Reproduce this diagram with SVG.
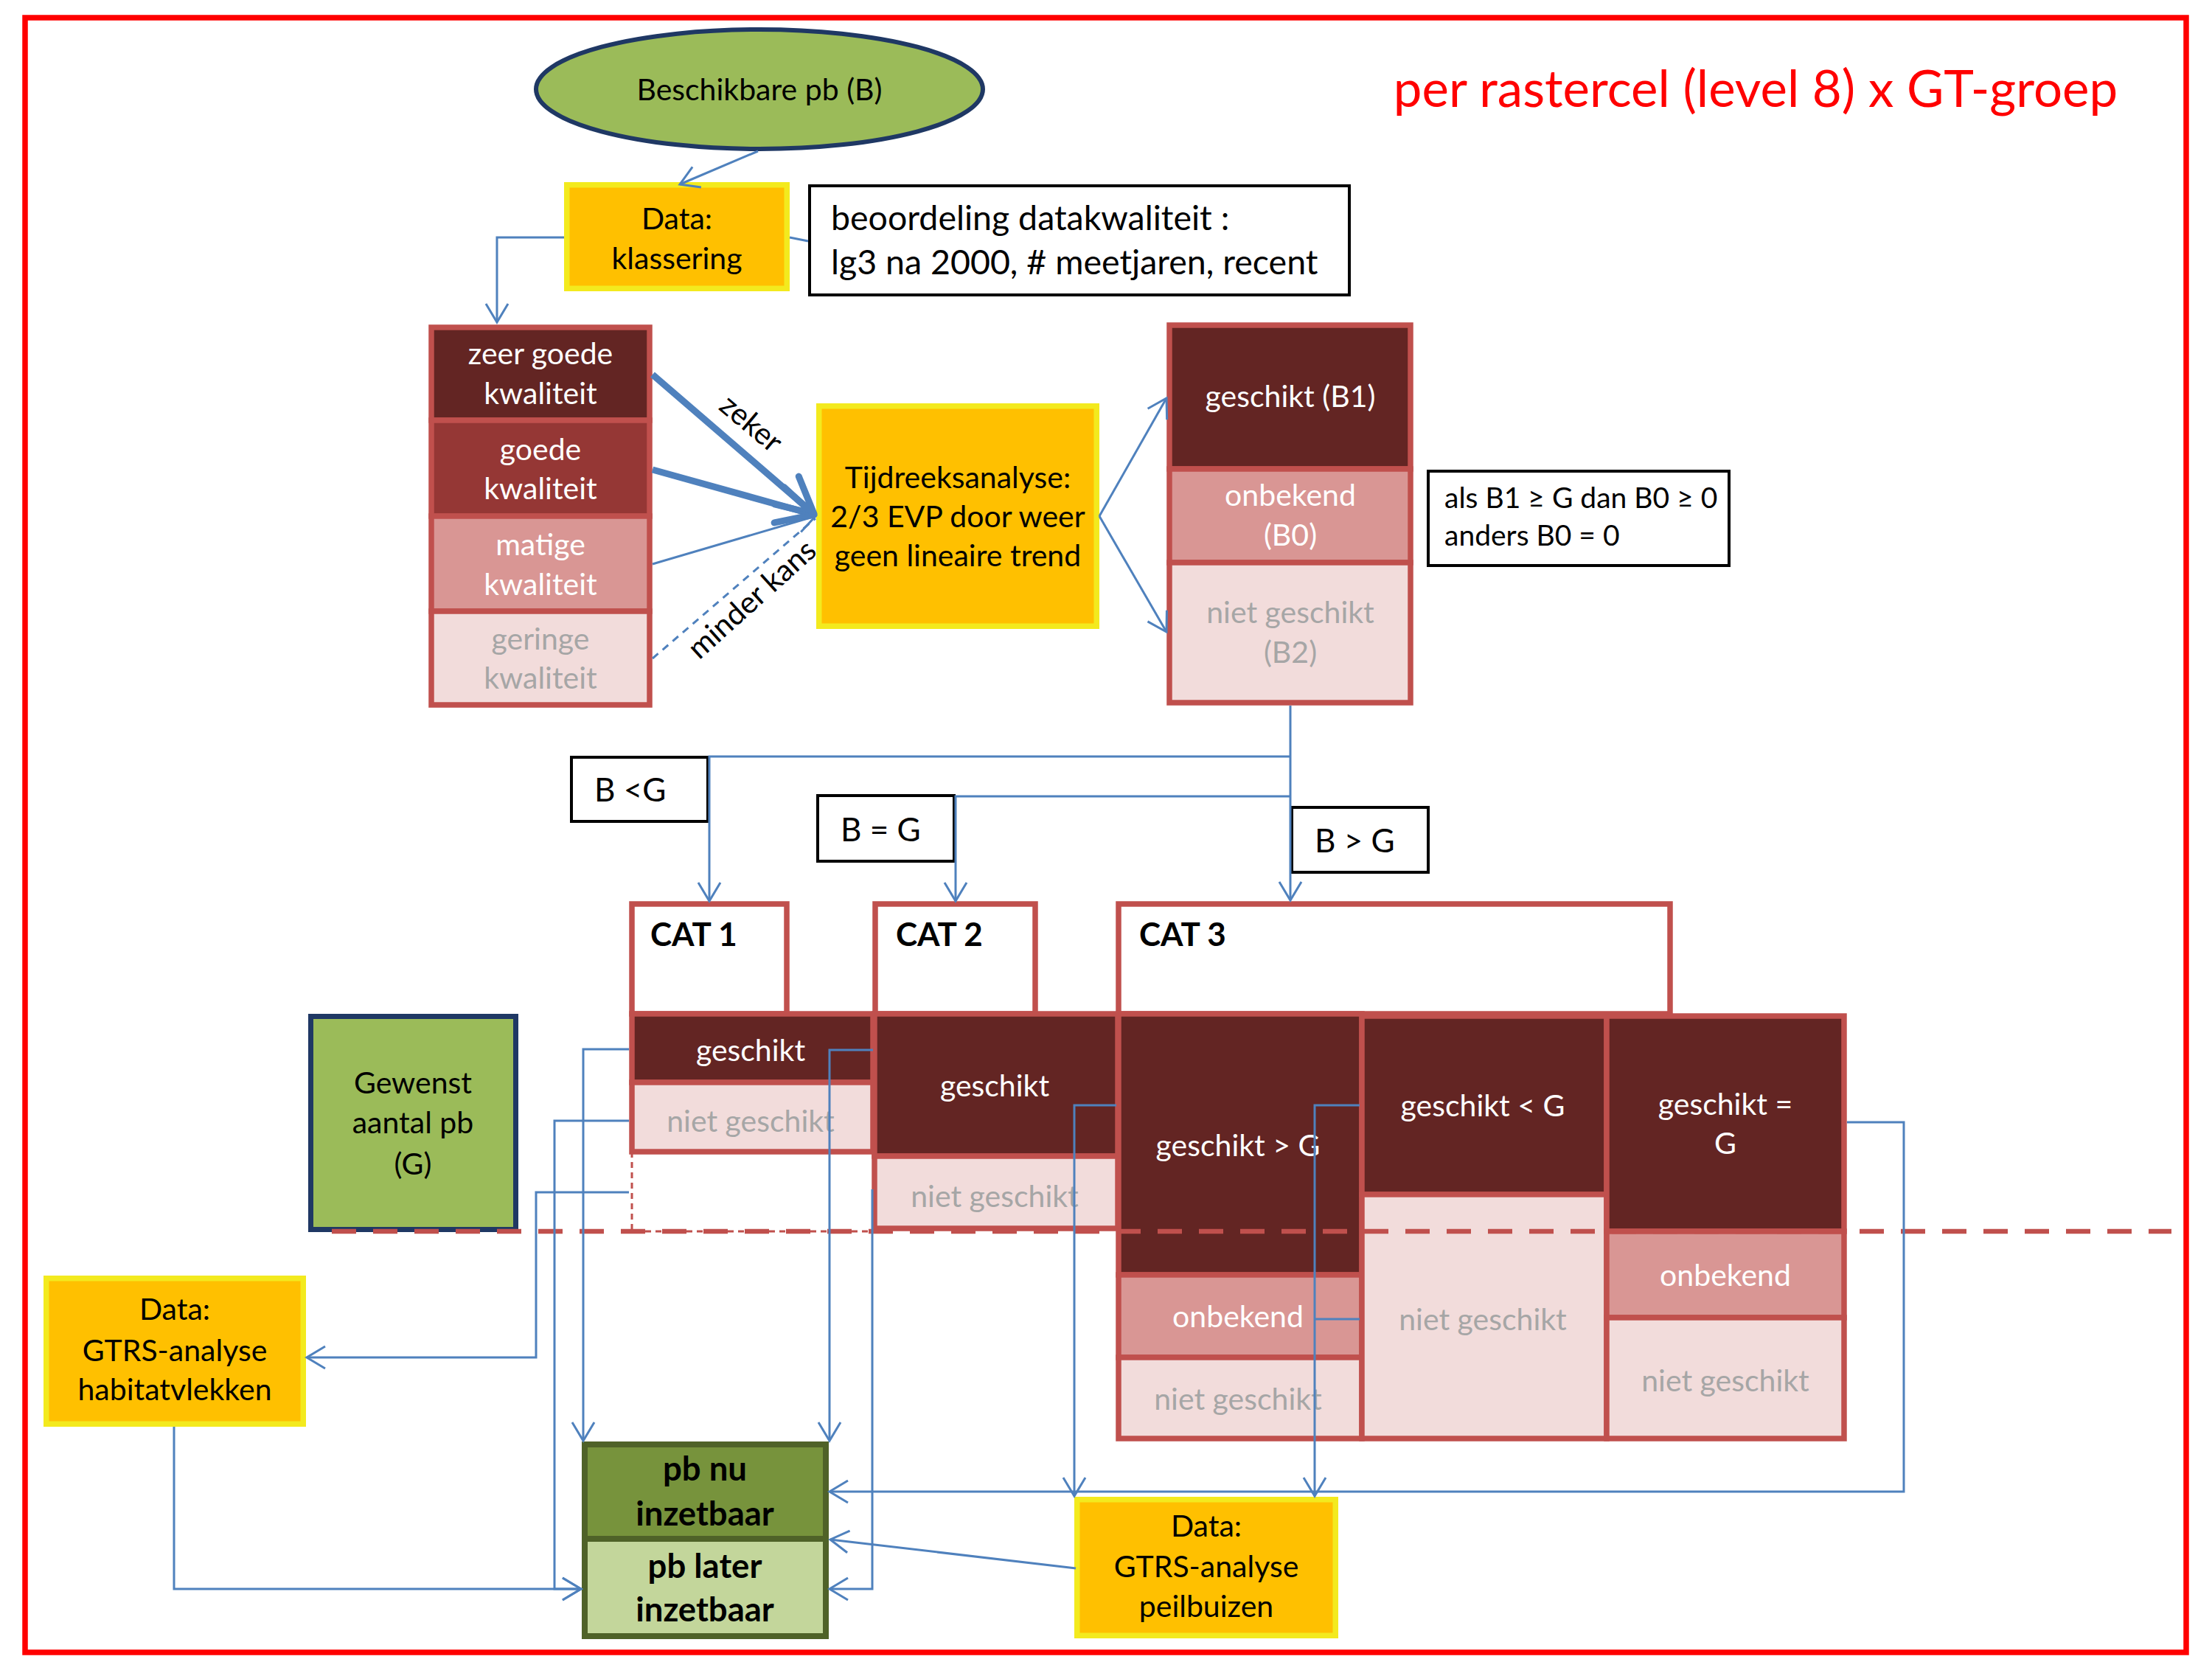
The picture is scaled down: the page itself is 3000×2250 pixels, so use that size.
<svg xmlns="http://www.w3.org/2000/svg" width="3000" height="2250" viewBox="0 0 3000 2250">
<defs>
<marker id="ah" viewBox="0 0 32 32" refX="28" refY="16" markerWidth="32" markerHeight="32" markerUnits="userSpaceOnUse" orient="auto" overflow="visible"><path d="M3,1 L28,16 L3,31" fill="none" stroke="#4F81BD" stroke-width="3"/></marker>
<marker id="ahT" viewBox="0 0 60 60" refX="55" refY="30" markerWidth="60" markerHeight="60" markerUnits="userSpaceOnUse" orient="auto" overflow="visible"><path d="M6,5 L55,30 L6,55" fill="none" stroke="#4F81BD" stroke-width="9" stroke-linecap="round" stroke-linejoin="round"/></marker>
</defs>
<style>
.f{font-family:Lato,"Liberation Sans","DejaVu Sans",sans-serif}
.c{text-anchor:middle}
.k{fill:#000}
.w{fill:#fff}
.g{fill:#A6A6A6}
.b{font-weight:bold}
.cs{stroke:#C0504D;stroke-width:7.5}
.yb{fill:#FFC000;stroke:#F3EA1E;stroke-width:7.5}
.bx{fill:#fff;stroke:#000;stroke-width:4}
.conn path{fill:none;stroke:#4F81BD;stroke-width:3}
.d1{fill:#632523}.d2{fill:#953735}.d3{fill:#D99694}.d4{fill:#F2DCDB}
</style>
<rect width="3000" height="2250" fill="#fff"/>
<rect id="frame" x="34" y="24" width="2931" height="2217" fill="none" stroke="#FF0000" stroke-width="7.5"/>
<text id="title" class="f c" x="2381" y="145" font-size="69" fill="#FF0000">per rastercel (level 8) x GT-groep</text>

<g id="beschikbare">
<ellipse cx="1030" cy="121" rx="303" ry="81" fill="#9BBB59" stroke="#1F3864" stroke-width="6"/>
<text class="f k c" x="1030" y="136" font-size="41">Beschikbare pb (B)</text>
</g>

<g id="klassering">
<rect class="yb" x="768.75" y="250.75" width="298.5" height="140.5"/>
<text class="f k c" x="918" font-size="41"><tspan x="918" y="311">Data:</tspan><tspan x="918" y="365">klassering</tspan></text>
</g>

<g id="beoordeling">
<rect class="bx" x="1098" y="252" width="732" height="148"/>
<text class="f k" font-size="46.5"><tspan x="1127" y="312">beoordeling datakwaliteit :</tspan><tspan x="1127" y="372">lg3 na 2000, # meetjaren, recent</tspan></text>
</g>

<g id="kwaliteit">
<rect class="cs d1" x="585" y="444" width="296" height="126"/>
<rect class="cs d2" x="585" y="570" width="296" height="130"/>
<rect class="cs d3" x="585" y="700" width="296" height="129"/>
<rect class="cs d4" x="585" y="829" width="296" height="127"/>
<text class="f w c" font-size="41"><tspan x="733" y="494">zeer goede</tspan><tspan x="733" y="548">kwaliteit</tspan></text>
<text class="f w c" font-size="41"><tspan x="733" y="624">goede</tspan><tspan x="733" y="677">kwaliteit</tspan></text>
<text class="f w c" font-size="41"><tspan x="733" y="753">matige</tspan><tspan x="733" y="807">kwaliteit</tspan></text>
<text class="f g c" font-size="41"><tspan x="733" y="881">geringe</tspan><tspan x="733" y="934">kwaliteit</tspan></text>
</g>

<g id="tijdreeks">
<rect class="yb" x="1110.75" y="550.75" width="376.5" height="298.5"/>
<text class="f k c" font-size="41"><tspan x="1299" y="662">Tijdreeksanalyse:</tspan><tspan x="1299" y="715">2/3 EVP door weer</tspan><tspan x="1299" y="768">geen lineaire trend</tspan></text>
</g>

<g id="bstack">
<rect class="cs d1" x="1586" y="441" width="327" height="195"/>
<rect class="cs d3" x="1586" y="636" width="327" height="127"/>
<rect class="cs d4" x="1586" y="763" width="327" height="190"/>
<text class="f w c" x="1750" y="552" font-size="41">geschikt (B1)</text>
<text class="f w c" font-size="41"><tspan x="1750" y="686">onbekend</tspan><tspan x="1750" y="740">(B0)</tspan></text>
<text class="f g c" font-size="41"><tspan x="1750" y="845">niet geschikt</tspan><tspan x="1750" y="899">(B2)</tspan></text>
</g>

<g id="regel">
<rect class="bx" x="1937" y="639" width="408" height="128"/>
<text class="f k" font-size="39"><tspan x="1959" y="689">als B1 ≥ G dan B0 ≥ 0</tspan><tspan x="1959" y="740">anders B0 = 0</tspan></text>
</g>

<g id="bltg">
<rect class="bx" x="775" y="1027" width="185" height="87"/>
<text class="f k" x="806" y="1087" font-size="44">B &lt;G</text>
</g>
<g id="beqg">
<rect class="bx" x="1109" y="1079" width="185" height="89"/>
<text class="f k" x="1140" y="1141" font-size="44">B = G</text>
</g>
<g id="bgtg">
<rect class="bx" x="1752" y="1095" width="185" height="88"/>
<text class="f k" x="1783" y="1156" font-size="44">B &gt; G</text>
</g>

<g id="cat1">
<rect class="cs" fill="#fff" x="857" y="1226" width="210" height="149"/>
<text class="f k b" x="882" y="1283" font-size="44">CAT 1</text>
<rect class="cs d1" x="857" y="1375" width="327" height="93"/>
<rect class="cs d4" x="857" y="1468" width="327" height="94"/>
<text class="f w c" x="1018" y="1439" font-size="41">geschikt</text>
<text class="f g c" x="1018" y="1535" font-size="41">niet geschikt</text>
<path d="M857,1562 V1670 H1184" fill="none" stroke="#C0504D" stroke-width="3" stroke-dasharray="8 6"/>
</g>

<g id="cat2">
<rect class="cs" fill="#fff" x="1187" y="1226" width="217" height="149"/>
<text class="f k b" x="1215" y="1283" font-size="44">CAT 2</text>
<rect class="cs d1" x="1186" y="1375" width="330" height="193"/>
<rect class="cs d4" x="1186" y="1568" width="330" height="98"/>
<text class="f w c" x="1349" y="1487" font-size="41">geschikt</text>
<text class="f g c" x="1349" y="1637" font-size="41">niet geschikt</text>
</g>

<g id="cat3">
<rect class="cs" fill="#fff" x="1517" y="1226" width="748" height="149"/>
<text class="f k b" x="1545" y="1283" font-size="44">CAT 3</text>
<rect class="cs d1" x="1517" y="1375" width="330" height="354"/>
<rect class="cs d3" x="1517" y="1729" width="330" height="112"/>
<rect class="cs d4" x="1517" y="1841" width="330" height="110"/>
<text class="f w c" x="1679" y="1568" font-size="41">geschikt &gt; G</text>
<text class="f w c" x="1679" y="1800" font-size="41">onbekend</text>
<text class="f g c" x="1679" y="1912" font-size="41">niet geschikt</text>
<rect class="cs d1" x="1847" y="1378" width="332" height="242"/>
<rect class="cs d4" x="1847" y="1620" width="332" height="331"/>
<text class="f w c" x="2011" y="1514" font-size="41">geschikt &lt; G</text>
<text class="f g c" x="2011" y="1804" font-size="41">niet geschikt</text>
<rect class="cs d1" x="2179" y="1378" width="322" height="292"/>
<rect class="cs d3" x="2179" y="1670" width="322" height="117"/>
<rect class="cs d4" x="2179" y="1787" width="322" height="164"/>
<text class="f w c" font-size="41"><tspan x="2340" y="1512">geschikt =</tspan><tspan x="2340" y="1565">G</tspan></text>
<text class="f w c" x="2340" y="1744" font-size="41">onbekend</text>
<text class="f g c" x="2340" y="1887" font-size="41">niet geschikt</text>
</g>

<g id="gewenst">
<rect x="421.5" y="1378.5" width="278" height="289" fill="#9BBB59" stroke="#1F3864" stroke-width="7"/>
<text class="f k c" font-size="41"><tspan x="560" y="1483">Gewenst</tspan><tspan x="560" y="1537">aantal pb</tspan><tspan x="560" y="1593">(G)</tspan></text>
</g>

<g id="habitat">
<rect class="yb" x="62.75" y="1733.75" width="348.5" height="197.5"/>
<text class="f k c" font-size="41"><tspan x="237" y="1790">Data:</tspan><tspan x="237" y="1846">GTRS-analyse</tspan><tspan x="237" y="1899">habitatvlekken</tspan></text>
</g>

<g id="pb">
<rect x="793" y="1959" width="327" height="128" fill="#77933C" stroke="#4F6228" stroke-width="8"/>
<rect x="793" y="2087" width="327" height="132" fill="#C3D69B" stroke="#4F6228" stroke-width="8"/>
<text class="f k c b" font-size="45.5"><tspan x="956" y="2008">pb nu</tspan><tspan x="956" y="2069">inzetbaar</tspan></text>
<text class="f k c b" font-size="45.5"><tspan x="956" y="2140">pb later</tspan><tspan x="956" y="2199">inzetbaar</tspan></text>
</g>

<g id="peilbuizen">
<rect class="yb" x="1460.75" y="2033.75" width="350.5" height="184.5"/>
<text class="f k c" font-size="41"><tspan x="1636" y="2084">Data:</tspan><tspan x="1636" y="2139">GTRS-analyse</tspan><tspan x="1636" y="2193">peilbuizen</tspan></text>
</g>

<path id="grens" d="M450,1670 H2945" fill="none" stroke="#C0504D" stroke-width="6.5" stroke-dasharray="33 23"/>

<g id="connectors" class="conn">
<path d="M1028,205 L922,250" marker-end="url(#ah)"/>
<path d="M765,322 H674 V437" marker-end="url(#ah)"/>
<path d="M1071,322 L1096,327"/>
<path d="M885,508 L1104,697" style="stroke-width:9" marker-end="url(#ahT)"/>
<path d="M885,637 L1104,698" style="stroke-width:9" marker-end="url(#ahT)"/>
<path d="M885,765 L1106,700" marker-end="url(#ah)"/>
<path d="M885,893 L1106,703" stroke-dasharray="10 8"/>
<path d="M1491,700 L1582,540" marker-end="url(#ah)"/>
<path d="M1491,700 L1582,857" marker-end="url(#ah)"/>
<path d="M1750,957 V1221" marker-end="url(#ah)"/>
<path d="M1750,1026 H962 V1222" marker-end="url(#ah)"/>
<path d="M1750,1080 H1296 V1222" marker-end="url(#ah)"/>
<path d="M853,1423 H791 V1954" marker-end="url(#ah)"/>
<path d="M853,1520 H752 V2155 H788" marker-end="url(#ah)"/>
<path d="M236,1935 V2155 H788" marker-end="url(#ah)"/>
<path d="M853,1617 H727 V1841 H416" marker-end="url(#ah)"/>
<path d="M1184,1424 H1125 V1954" marker-end="url(#ah)"/>
<path d="M1183,1613 V2155 H1125" marker-end="url(#ah)"/>
<path d="M1514,1499 H1457 V2029" marker-end="url(#ah)"/>
<path d="M1844,1499 H1783 V2029" marker-end="url(#ah)"/>
<path d="M1844,1789 H1783"/>
<path d="M2505,1522 H2582 V2023 H1125" marker-end="url(#ah)"/>
<path d="M1459,2127 L1126,2088" marker-end="url(#ah)"/>
</g>

<g id="labels">
<text class="f k c" font-size="41" transform="translate(1010,585) rotate(40)">zeker</text>
<text class="f k c" font-size="41" transform="translate(1029,823) rotate(-42)">minder kans</text>
</g>
</svg>
